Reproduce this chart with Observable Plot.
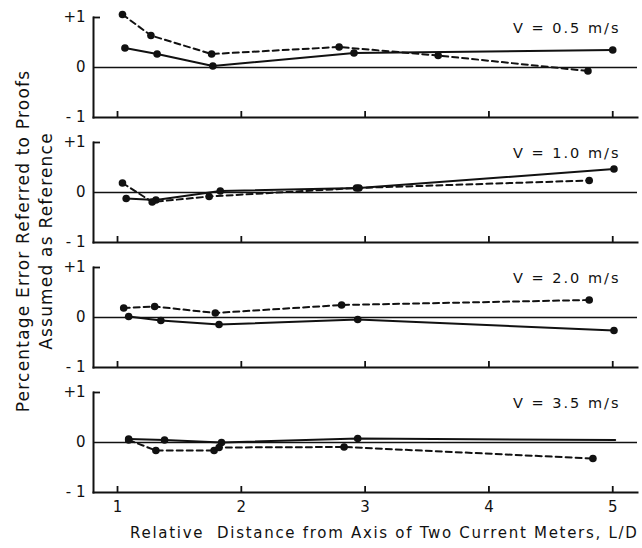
<!DOCTYPE html>
<html>
<head>
<meta charset="utf-8">
<script src="https://cdn.jsdelivr.net/npm/d3@7"></script>
<script src="https://cdn.jsdelivr.net/npm/@observablehq/plot@0.6"></script>
<style>
  html, body { margin: 0; padding: 0; background: #fff; }
  g[aria-description="x-title"] text { letter-spacing: 1.7px; }
  g[aria-description="panel-label"] text { letter-spacing: 2px; }
  g[aria-description="y-title"] text { letter-spacing: 1.2px; }
</style>
</head>
<body>
<div id="chart"></div>
<script>
// Panel labels (velocity)
const panels = ["V = 0.5 m/s", "V = 1.0 m/s", "V = 2.0 m/s", "V = 3.5 m/s"];

// V = 0.5 m/s
const xSolid05 = [1.06, 1.32, 1.77, 2.91, 5.00];
const ySolid05 = [0.39, 0.27, 0.03, 0.29, 0.35];
const xDash05  = [1.04, 1.27, 1.76, 2.79, 3.59, 4.80];
const yDash05  = [1.06, 0.64, 0.27, 0.41, 0.24, -0.07];

// V = 1.0 m/s
const xSolid10 = [1.07, 1.31, 1.83, 2.95, 5.01];
const ySolid10 = [-0.12, -0.15, 0.03, 0.09, 0.47];
const xDash10  = [1.04, 1.28, 1.74, 2.93, 4.81];
const yDash10  = [0.19, -0.19, -0.08, 0.09, 0.24];

// V = 2.0 m/s
const xSolid20 = [1.09, 1.35, 1.82, 2.94, 5.01];
const ySolid20 = [0.02, -0.06, -0.14, -0.04, -0.26];
const xDash20  = [1.05, 1.30, 1.79, 2.81, 4.81];
const yDash20  = [0.19, 0.22, 0.09, 0.25, 0.35];

// V = 3.5 m/s (last solid point has no marker)
const xSolid35 = [1.09, 1.38, 1.84, 2.94, 5.02];
const ySolid35 = [0.07, 0.05, 0.00, 0.08, 0.05];
const dotSolid35 = [true, true, true, true, false];
const xDash35  = [1.09, 1.31, 1.78, 1.82, 2.83, 4.84];
const yDash35  = [0.05, -0.16, -0.16, -0.10, -0.09, -0.32];

const xTicks = [1, 2, 3, 4, 5];
const yTicks = [-1, 0, 1];
const yTickLabels = ["- 1", "0", "+1"];
const xTitle = "Relative  Distance from Axis of Two Current Meters, L/D";
const yTitle = "Percentage Error Referred to Proofs\nAssumed as Reference";

function rows(panel, series, xs, ys, dots) {
  return xs.map((x, i) => ({panel, series, x, y: ys[i], dot: dots ? dots[i] : true}));
}
const data = [
  ...rows(panels[0], "solid", xSolid05, ySolid05),
  ...rows(panels[0], "dashed", xDash05, yDash05),
  ...rows(panels[1], "solid", xSolid10, ySolid10),
  ...rows(panels[1], "dashed", xDash10, yDash10),
  ...rows(panels[2], "solid", xSolid20, ySolid20),
  ...rows(panels[2], "dashed", xDash20, yDash20),
  ...rows(panels[3], "solid", xSolid35, ySolid35, dotSolid35),
  ...rows(panels[3], "dashed", xDash35, yDash35)
];

const ink = "#111";

const chart = Plot.plot({
  width: 642,
  height: 548,
  marginLeft: 93,
  marginRight: 5,
  marginTop: 16,
  marginBottom: 56,
  style: {fontFamily: "DejaVu Sans, sans-serif", fontSize: "15px", color: ink, background: "#fff"},
  x: {domain: [0.806, 5.2]},
  y: {domain: [-1, 1]},
  fy: {domain: panels, axis: null, paddingInner: 0.2, paddingOuter: 0},
  marks: [
    Plot.frame({anchor: "left", stroke: ink, strokeWidth: 2}),
    Plot.frame({anchor: "bottom", stroke: ink, strokeWidth: 2}),
    Plot.ruleY([0], {stroke: ink, strokeWidth: 1.5}),
    Plot.axisX({ticks: xTicks, tickSize: -6, tickFormat: () => "", facetAnchor: null, label: null, stroke: ink, strokeWidth: 1.8}),
    Plot.axisX({ticks: xTicks, tickSize: 0, tickPadding: 9, label: null, fontSize: 15, fill: ink, tickFormat: d3.format("d")}),
    Plot.axisY({ticks: [1], tickSize: -7, tickFormat: () => "", label: null, stroke: ink, strokeWidth: 1.8}),
    Plot.axisY({ticks: yTicks, tickSize: 0, tickPadding: 8, label: null, fontSize: 15, fill: ink,
      tickFormat: d => yTickLabels[yTicks.indexOf(d)]}),
    Plot.line(data.filter(d => d.series === "solid"), {x: "x", y: "y", fy: "panel", stroke: ink, strokeWidth: 2}),
    Plot.line(data.filter(d => d.series === "dashed"), {x: "x", y: "y", fy: "panel", stroke: ink, strokeWidth: 2, strokeDasharray: "6,4"}),
    Plot.dot(data.filter(d => d.dot), {x: "x", y: "y", fy: "panel", r: 3.8, fill: ink, stroke: "none"}),
    Plot.text(panels, {ariaDescription: "panel-label", fy: d => d, text: d => d, frameAnchor: "top-right", textAnchor: "end", dx: -17, dy: 5, fontSize: 14.5, fill: ink}),
    Plot.text([xTitle], {ariaDescription: "x-title", facet: "super", text: d => d, frameAnchor: "bottom-right", textAnchor: "end", dx: 1, dy: 45, fontSize: 15, fill: ink}),
    Plot.text([yTitle], {ariaDescription: "y-title", facet: "super", text: d => d, frameAnchor: "left", textAnchor: "middle", rotate: -90, dx: -60, dy: -14, fontSize: 17, lineHeight: 1.35, fill: ink})
  ]
});
document.getElementById("chart").appendChild(chart);
</script>
</body>
</html>
